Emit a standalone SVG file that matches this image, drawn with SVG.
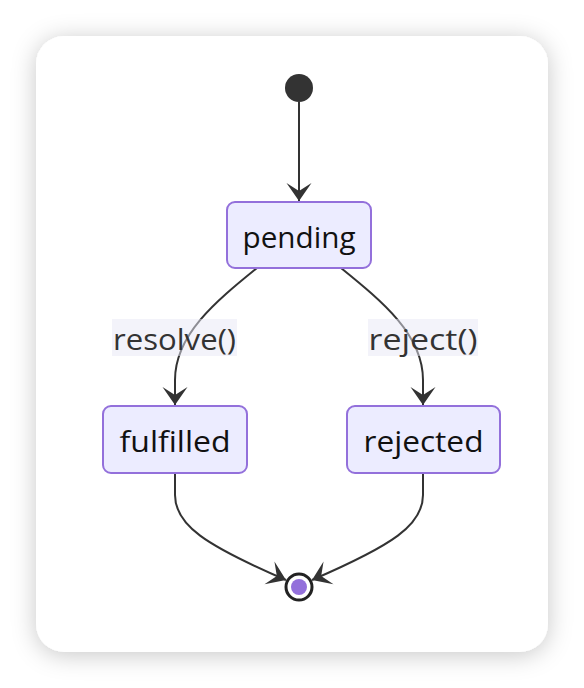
<svg xmlns="http://www.w3.org/2000/svg" width="584" height="688" viewBox="0 0 584 688">
<style>
.node rect{fill:#ECECFF;stroke:#9370DB;stroke-width:2}
.node text{font-family:"Open Sans",Lato,sans-serif;font-size:30px;fill:#111;text-anchor:middle;dominant-baseline:central}
.edge{fill:none;stroke:#333;stroke-width:2}
.lbl rect{fill:#E8E8F5;fill-opacity:0.5}
.lbl text{font-family:"Open Sans",Lato,sans-serif;font-size:30px;fill:#333;text-anchor:middle;dominant-baseline:central}
</style>
<defs>
<filter id="sh" x="-20%" y="-20%" width="140%" height="140%">
<feDropShadow dx="0" dy="3" stdDeviation="12" flood-color="#000" flood-opacity="0.22"/>
</filter>
<marker id="arr" markerUnits="userSpaceOnUse" viewBox="0 0 22 26" refX="20" refY="13" markerWidth="22" markerHeight="26" orient="auto">
<path d="M20,13 L2,0.5 L10,13 L2,25.5 Z" fill="#333"/>
</marker>
</defs>
<rect x="36" y="36" width="512" height="616" rx="28" fill="#fff" filter="url(#sh)"/>
<g id="connectors">
<path class="edge" d="M299,102 L299,201" marker-end="url(#arr)"/>
<path class="edge" d="M257,268 C215,302 175,335 175,380 L175,405" marker-end="url(#arr)"/>
<path class="edge" d="M341,268 C383,302 423,335 423,380 L423,405" marker-end="url(#arr)"/>
<path class="edge" d="M175,473 L175,495 C175,525 205,545 286,580" marker-end="url(#arr)"/>
<path class="edge" d="M423,473 L423,495 C423,525 393,545 312,580" marker-end="url(#arr)"/>
<g class="lbl" id="label-resolve"><rect x="112" y="319" width="125" height="37"/><text x="174.5" y="338" textLength="123" lengthAdjust="spacingAndGlyphs">resolve()</text></g>
<g class="lbl" id="label-reject"><rect x="368" y="319" width="110" height="37"/><text x="423" y="338" textLength="109" lengthAdjust="spacingAndGlyphs">reject()</text></g>
</g>
<g id="start"><circle cx="299" cy="88" r="14" fill="#333"/></g>
<g id="pending" class="node"><rect x="227" y="202" width="144" height="66" rx="8"/><text x="299" y="236" textLength="113" lengthAdjust="spacingAndGlyphs">pending</text></g>
<g id="fulfilled" class="node"><rect x="103" y="406" width="144" height="67" rx="8"/><text x="175" y="440" textLength="111" lengthAdjust="spacingAndGlyphs">fulfilled</text></g>
<g id="rejected" class="node"><rect x="347" y="406" width="153" height="67" rx="8"/><text x="423.5" y="440" textLength="120" lengthAdjust="spacingAndGlyphs">rejected</text></g>
<g id="end"><circle cx="299" cy="587" r="13" fill="#fff" stroke="#222" stroke-width="3"/><circle cx="299" cy="587" r="8" fill="#9370DB"/></g>
</svg>
